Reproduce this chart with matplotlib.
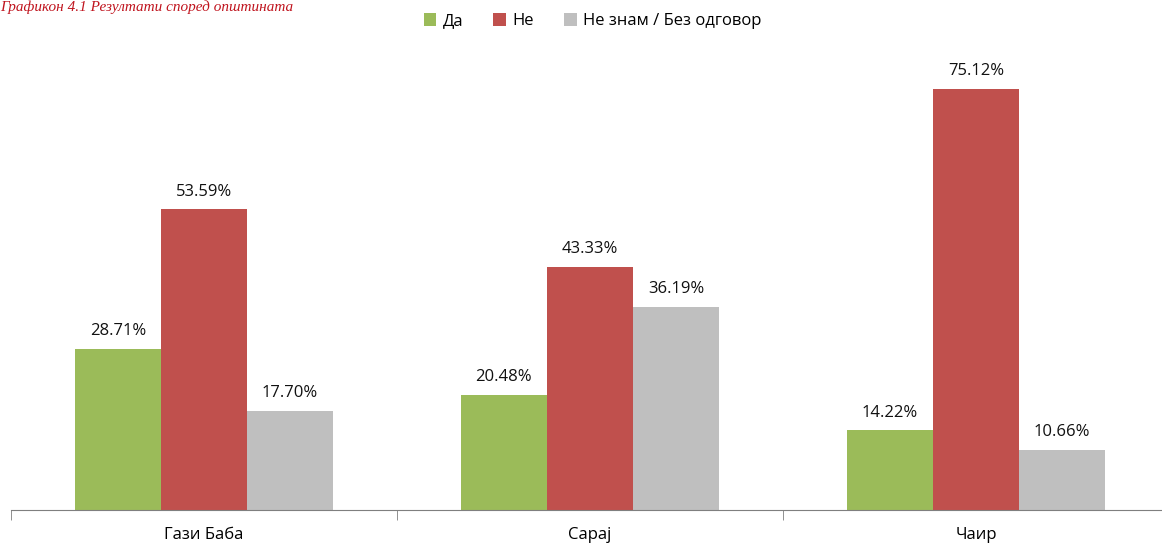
import matplotlib
matplotlib.use("Agg")
import matplotlib.pyplot as plt
import numpy as np

categories = ["Гази Баба", "Сарај", "Чаир"]
series_names = ["Да", "Не", "Не знам / Без одговор"]
da = [28.71, 20.48, 14.22]
ne = [53.59, 43.33, 75.12]
neznam = [17.70, 36.19, 10.66]
colors = ["#9BBB59", "#C0504D", "#BFBFBF"]

plt.rcParams['font.family'] = ['Open Sans', 'DejaVu Sans']
fig = plt.figure(figsize=(11.62, 5.46), dpi=100)
ax = fig.add_axes([11/1162, 36/546, 1158/1162, 460/546])

x = np.arange(len(categories))
w = 0.223
for i, (vals, name, c) in enumerate(zip([da, ne, neznam], series_names, colors)):
    pos = x + (i - 1) * w
    ax.bar(pos, vals, w, color=c, label=name, edgecolor='none')
    for p, v in zip(pos, vals):
        ax.annotate(f"{v:.2f}%", (p, v), xytext=(0, 7), textcoords='offset points',
                    ha='center', va='bottom', fontsize=12, color='#111111')

ax.set_xlim(-0.5, len(categories) - 0.5)
ax.set_ylim(0, 82)
ax.set_xticks(x)
ax.set_xticklabels(categories, fontsize=12)
ax.tick_params(axis='x', which='major', length=0, pad=12)
ax.set_xticks(np.arange(len(categories) + 1) - 0.5, minor=True)
ax.tick_params(axis='x', which='minor', length=7, color='#7f7f7f', direction='out')
ax.set_yticks([])
for s in ['top', 'right', 'left']:
    ax.spines[s].set_visible(False)
ax.spines['bottom'].set_color('#7f7f7f')

fig.legend(loc='upper center', bbox_to_anchor=(0.51, 1.003), ncol=3, frameon=False,
           fontsize=12, handlelength=0.75, handleheight=0.75, handletextpad=0.4,
           columnspacing=1.8)

fig.text(0.0, 0.999, "Графикон 4.1 Резултати според општината", color='#C0141E',
         fontsize=11, style='italic', family='Liberation Serif', ha='left', va='top')

fig.savefig("out.png", dpi=100)
